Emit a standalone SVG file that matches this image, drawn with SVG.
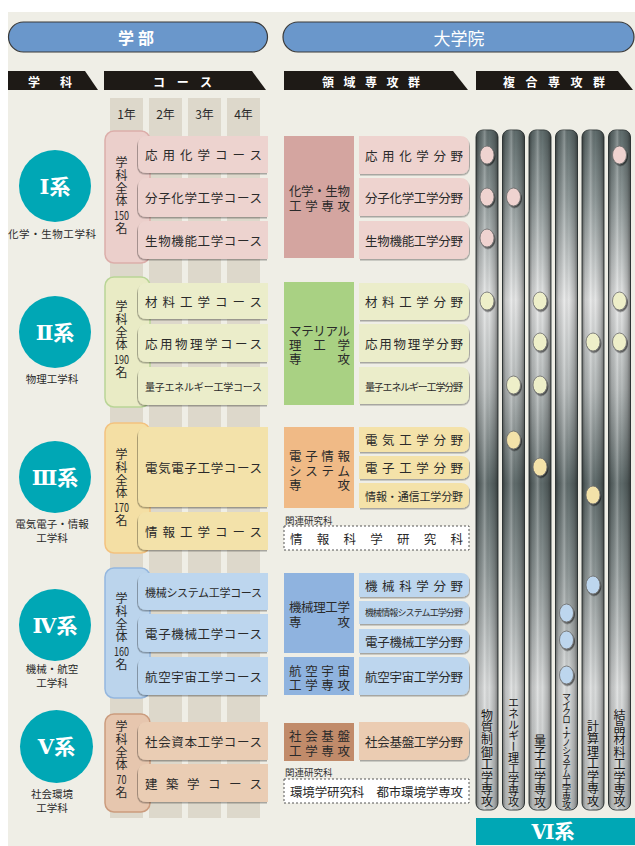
<svg xmlns="http://www.w3.org/2000/svg" width="635" height="846" viewBox="0 0 635 846">
<defs>
<linearGradient id="barV" gradientUnits="userSpaceOnUse" x1="0" y1="130" x2="0" y2="810">
<stop offset="0" stop-color="#5F6C6C"/>
<stop offset="0.1" stop-color="#8E9898"/>
<stop offset="0.25" stop-color="#E6E7E7"/>
<stop offset="0.38" stop-color="#B5BABA"/>
<stop offset="0.52" stop-color="#5E6A6A"/>
<stop offset="0.65" stop-color="#8D9696"/>
<stop offset="0.82" stop-color="#DADCDC"/>
<stop offset="1" stop-color="#C4C8C8"/>
</linearGradient>
<linearGradient id="barH" x1="0" y1="0" x2="1" y2="0">
<stop offset="0" stop-color="#000" stop-opacity="0.45"/>
<stop offset="0.15" stop-color="#000" stop-opacity="0.12"/>
<stop offset="0.4" stop-color="#fff" stop-opacity="0.25"/>
<stop offset="0.6" stop-color="#000" stop-opacity="0"/>
<stop offset="0.85" stop-color="#000" stop-opacity="0.2"/>
<stop offset="1" stop-color="#000" stop-opacity="0.45"/>
</linearGradient>
<filter id="shL" x="-10%" y="-20%" width="120%" height="150%"><feDropShadow dx="-1" dy="1.5" stdDeviation="0.6" flood-color="#000" flood-opacity="0.3"/></filter>
<filter id="shR" x="-10%" y="-20%" width="120%" height="150%"><feDropShadow dx="1" dy="1.5" stdDeviation="0.6" flood-color="#000" flood-opacity="0.3"/></filter>
<filter id="shD" x="-40%" y="-40%" width="180%" height="180%"><feDropShadow dx="1" dy="1.5" stdDeviation="0.5" flood-color="#000" flood-opacity="0.55"/></filter>
<style>
text{font-family:"Noto Sans CJK JP","Noto Sans CJK SC",sans-serif;fill:#2a2a2a;dominant-baseline:central}
.w{fill:#fff;font-weight:bold}
.hd{font-size:12px}
.yr{font-size:12px;text-anchor:middle}
.crs{font-size:12.5px}
.fld{font-size:12.5px}
.gr{font-size:12.5px}
.lbl{font-size:10.5px;text-anchor:middle}
.vt{font-size:12px;text-anchor:middle}
.vk{font-size:12px;writing-mode:vertical-rl;letter-spacing:0.7px}
.num{font-family:"DejaVu Serif","Noto Sans CJK JP",serif;font-size:21px;font-weight:bold;fill:#fff;text-anchor:middle}
.bar{fill:url(#barV);stroke:#3d4545;stroke-width:1}
.barov{fill:url(#barH)}
.dot{stroke:#6b6b6b;stroke-width:0.8;filter:url(#shD)}
.vbl{font-size:12px;writing-mode:vertical-rl;fill:#151515}
.teal{fill:#00A7B5}
.col{fill:#DDD8CB}
.crsbox{filter:url(#shL)}
.fldbox{filter:url(#shR)}
.dash{fill:#fff;stroke:#555;stroke-width:1;stroke-dasharray:2 2}
.rel{font-size:9.5px;fill:#333}
.s10{font-size:10px}
.s11{font-size:11px}
.s9{font-size:9px}
</style>
</defs>
<rect x="0" y="0" width="635" height="846" fill="#fff"/>
<rect x="8" y="12" width="627" height="834" fill="#EFEEE6"/>

<g id="header-gakubu">
<rect x="8.5" y="22" width="259" height="30" rx="15" fill="#6A97CB" stroke="#3A3A3A" stroke-width="1.2"/>
<text x="118" y="37" class="w" style="font-size:16px" textLength="36">学部</text>
</g>
<g id="header-daigakuin">
<rect x="283" y="22" width="351" height="30" rx="15" fill="#6A97CB" stroke="#3A3A3A" stroke-width="1.2"/>
<text x="459" y="37" class="w" style="font-size:17px;font-weight:normal" text-anchor="middle">大学院</text>
</g>

<g id="col-headers">
<path d="M8 71H85L98 90H8Z" fill="#1E1A16"/>
<text x="28" y="81" class="w hd" textLength="44">学科</text>
<path d="M104 71H252L266 90H104Z" fill="#1E1A16"/>
<text x="153" y="81" class="w hd" textLength="59">コース</text>
<path d="M284 71H453L468 90H284Z" fill="#1E1A16"/>
<text x="322" y="81" class="w hd" textLength="98">領域専攻群</text>
<path d="M476 71H618L633 90H476Z" fill="#1E1A16"/>
<text x="503" y="81" class="w hd" textLength="102">複合専攻群</text>
</g>

<g id="years">
<rect x="110" y="98" width="33" height="720" class="col"/>
<rect x="149" y="98" width="33" height="720" class="col"/>
<rect x="188" y="98" width="33" height="720" class="col"/>
<rect x="227" y="98" width="33" height="720" class="col"/>
<text x="126.5" y="113" class="yr">1年</text>
<text x="165.5" y="113" class="yr">2年</text>
<text x="204.5" y="113" class="yr">3年</text>
<text x="243.5" y="113" class="yr">4年</text>
</g>

<g id="bars">
<rect x="476" y="130" width="22" height="680" rx="7" class="bar"/>
<rect x="502.5" y="130" width="22" height="680" rx="7" class="bar"/>
<rect x="529" y="130" width="22" height="680" rx="7" class="bar"/>
<rect x="555.5" y="130" width="22" height="680" rx="7" class="bar"/>
<rect x="582" y="130" width="22" height="680" rx="7" class="bar"/>
<rect x="608.5" y="130" width="22" height="680" rx="7" class="bar"/>
<rect x="476" y="130" width="22" height="680" rx="7" class="barov"/>
<rect x="502.5" y="130" width="22" height="680" rx="7" class="barov"/>
<rect x="529" y="130" width="22" height="680" rx="7" class="barov"/>
<rect x="555.5" y="130" width="22" height="680" rx="7" class="barov"/>
<rect x="582" y="130" width="22" height="680" rx="7" class="barov"/>
<rect x="608.5" y="130" width="22" height="680" rx="7" class="barov"/>
<text x="487" y="709" class="vbl" letter-spacing="0.4">物質制御工学専攻</text>
<text x="513.5" y="697" class="vbl s11">エネルギー理工学専攻</text>
<text x="540" y="734" class="vbl" letter-spacing="0.4">量子工学専攻</text>
<text x="566.5" y="692" class="vbl s9" letter-spacing="-1.3">マイクロ・ナノシステム工学専攻</text>
<text x="593" y="720" class="vbl" letter-spacing="0.5">計算理工学専攻</text>
<text x="619.5" y="709" class="vbl" letter-spacing="0.4">結晶材料工学専攻</text>
</g>

<g id="kei6">
<rect x="476" y="818" width="159" height="27" class="teal"/>
<text x="553" y="832" class="num" style="font-size:20px">Ⅵ系</text>
</g>

<!-- Group I -->
<g id="kei1">
<circle cx="55" cy="186" r="36" class="teal"/>
<text x="55" y="186" class="num">Ⅰ系</text>
<text x="52" y="233" class="lbl" textLength="88">化学・生物工学科</text>
<rect x="105" y="131" width="45" height="132" rx="9" fill="#EBCFCB" stroke="#DCAEAA" stroke-width="1.5"/>
<text x="121.5" y="156.6" class="vk">学科全体</text>
<text class="vt"><tspan x="121.5" y="214" textLength="15" lengthAdjust="spacingAndGlyphs">150</tspan><tspan x="121.5" y="226.5">名</tspan></text>
</g>
<g id="kei1-courses" fill="#EDD3CF">
<path class="crsbox" d="M268 136H147Q138 136 138 145V164Q138 173 147 173H268Z"/>
<path class="crsbox" d="M268 178H147Q138 178 138 187V208Q138 217 147 217H268Z"/>
<path class="crsbox" d="M268 221H147Q138 221 138 230V250Q138 259 147 259H268Z"/>
<text x="145" y="154.5" class="crs" textLength="117">応用化学コース</text>
<text x="145" y="197.5" class="crs" textLength="117">分子化学工学コース</text>
<text x="145" y="240" class="crs" textLength="117">生物機能工学コース</text>
</g>
<g id="sensko1">
<rect x="284" y="136" width="70" height="122" fill="#D4A5A0"/>
<text x="289" y="190" class="gr" textLength="61">化学・生物</text>
<text x="289" y="205" class="gr" textLength="61">工学専攻</text>
</g>
<g id="bunya1" fill="#EED3CF">
<path class="fldbox" d="M359 136H460Q469 136 469 145V165Q469 174 460 174H359Z"/>
<path class="fldbox" d="M359 178H460Q469 178 469 187V207Q469 216 460 216H359Z"/>
<path class="fldbox" d="M359 221H460Q469 221 469 230V250Q469 259 460 259H359Z"/>
<text x="365" y="155" class="fld" textLength="98">応用化学分野</text>
<text x="365" y="197" class="fld" textLength="98">分子化学工学分野</text>
<text x="365" y="240" class="fld" textLength="98">生物機能工学分野</text>
</g>

<!-- Group II -->
<g id="kei2">
<circle cx="55" cy="332" r="36" class="teal"/>
<text x="55" y="332" class="num">Ⅱ系</text>
<text x="52" y="378" class="lbl">物理工学科</text>
<rect x="105" y="277" width="45" height="130" rx="9" fill="#E9EBC5" stroke="#B9D596" stroke-width="1.5"/>
<text x="121.5" y="300.6" class="vk">学科全体</text>
<text class="vt"><tspan x="121.5" y="358" textLength="15" lengthAdjust="spacingAndGlyphs">190</tspan><tspan x="121.5" y="370.5">名</tspan></text>
</g>
<g id="kei2-courses" fill="#EBEDCA">
<path class="crsbox" d="M268 283H147Q138 283 138 292V310Q138 319 147 319H268Z"/>
<path class="crsbox" d="M268 324H147Q138 324 138 333V353Q138 362 147 362H268Z"/>
<path class="crsbox" d="M268 367H147Q138 367 138 376V396Q138 405 147 405H268Z"/>
<text x="145" y="301" class="crs" textLength="117">材料工学コース</text>
<text x="145" y="343" class="crs" textLength="117">応用物理学コース</text>
<text x="145" y="386" class="crs s10" textLength="117">量子エネルギー工学コース</text>
</g>
<g id="sensko2">
<rect x="284" y="282" width="70" height="123" fill="#A9D183"/>
<text x="289" y="330" class="gr" textLength="61">マテリアル</text>
<text x="289" y="344" class="gr" textLength="61">理工学</text>
<text x="289" y="358" class="gr" textLength="61">専攻</text>
</g>
<g id="bunya2" fill="#EBEDCA">
<path class="fldbox" d="M359 283H460Q469 283 469 292V311Q469 320 460 320H359Z"/>
<path class="fldbox" d="M359 324H460Q469 324 469 333V353Q469 362 460 362H359Z"/>
<path class="fldbox" d="M359 367H460Q469 367 469 376V395Q469 404 460 404H359Z"/>
<text x="365" y="301" class="fld" textLength="98">材料工学分野</text>
<text x="365" y="343" class="fld" textLength="98">応用物理学分野</text>
<text x="365" y="386" class="fld s10" textLength="98">量子エネルギー工学分野</text>
</g>

<!-- Group III -->
<g id="kei3">
<circle cx="55" cy="477" r="36" class="teal"/>
<text x="55" y="477" class="num">Ⅲ系</text>
<text x="52" y="523" class="lbl">電気電子・情報</text>
<text x="52" y="537" class="lbl">工学科</text>
<rect x="105" y="423" width="45" height="130" rx="9" fill="#F4DFA4" stroke="#F3C27F" stroke-width="1.5"/>
<text x="121.5" y="448.6" class="vk">学科全体</text>
<text class="vt"><tspan x="121.5" y="506" textLength="15" lengthAdjust="spacingAndGlyphs">170</tspan><tspan x="121.5" y="518.5">名</tspan></text>
</g>
<g id="kei3-courses" fill="#F3E2AA">
<path class="crsbox" d="M268 427H147Q138 427 138 436V498Q138 507 147 507H268Z"/>
<path class="crsbox" d="M268 512H147Q138 512 138 521V541Q138 550 147 550H268Z"/>
<text x="145" y="467" class="crs" textLength="117">電気電子工学コース</text>
<text x="145" y="531" class="crs" textLength="117">情報工学コース</text>
</g>
<g id="sensko3">
<rect x="284" y="427" width="70" height="81" fill="#F0BA86"/>
<text x="289" y="455" class="gr" textLength="61">電子情報</text>
<text x="289" y="470" class="gr" textLength="61">システム</text>
<text x="289" y="484" class="gr" textLength="61">専攻</text>
</g>
<g id="bunya3" fill="#F4E2A9">
<path class="fldbox" d="M359 427H461Q469 427 469 435V444Q469 452 461 452H359Z"/>
<path class="fldbox" d="M359 456H461Q469 456 469 464V471Q469 479 461 479H359Z"/>
<path class="fldbox" d="M359 483H461Q469 483 469 491V500Q469 508 461 508H359Z"/>
<text x="365" y="439.5" class="fld" textLength="98">電気工学分野</text>
<text x="365" y="467.5" class="fld" textLength="98">電子工学分野</text>
<text x="365" y="495.5" class="fld s11" textLength="98">情報・通信工学分野</text>
</g>
<g id="kanren3">
<text x="285" y="520" class="rel">関連研究科</text>
<rect x="284" y="526" width="185" height="24" class="dash"/>
<text x="290" y="538" class="fld" textLength="173">情報科学研究科</text>
</g>

<!-- Group IV -->
<g id="kei4">
<circle cx="55" cy="625" r="36" class="teal"/>
<text x="55" y="625" class="num">Ⅳ系</text>
<text x="52" y="668" class="lbl">機械・航空</text>
<text x="52" y="682" class="lbl">工学科</text>
<rect x="105" y="568" width="45" height="130" rx="9" fill="#BBD4EC" stroke="#94B7DF" stroke-width="1.5"/>
<text x="121.5" y="592.6" class="vk">学科全体</text>
<text class="vt"><tspan x="121.5" y="650" textLength="15" lengthAdjust="spacingAndGlyphs">160</tspan><tspan x="121.5" y="662.5">名</tspan></text>
</g>
<g id="kei4-courses" fill="#BDD6EE">
<path class="crsbox" d="M268 573H147Q138 573 138 582V601Q138 610 147 610H268Z"/>
<path class="crsbox" d="M268 614H147Q138 614 138 623V643Q138 652 147 652H268Z"/>
<path class="crsbox" d="M268 657H147Q138 657 138 666V686Q138 695 147 695H268Z"/>
<text x="145" y="591.5" class="crs s11" textLength="117">機械システム工学コース</text>
<text x="145" y="633" class="crs" textLength="117">電子機械工学コース</text>
<text x="145" y="676" class="crs" textLength="117">航空宇宙工学コース</text>
</g>
<g id="sensko4a">
<rect x="284" y="573" width="70" height="80" fill="#8FB3DF"/>
<text x="289" y="606" class="gr" textLength="61">機械理工学</text>
<text x="289" y="621" class="gr" textLength="61">専攻</text>
</g>
<g id="sensko4b">
<rect x="284" y="657" width="70" height="38" fill="#8FB3DF"/>
<text x="289" y="670" class="gr" textLength="61">航空宇宙</text>
<text x="289" y="684" class="gr" textLength="61">工学専攻</text>
</g>
<g id="bunya4" fill="#BDD6EE">
<path class="fldbox" d="M359 573H461Q469 573 469 581V589Q469 597 461 597H359Z"/>
<path class="fldbox" d="M359 601H461Q469 601 469 609V616Q469 624 461 624H359Z"/>
<path class="fldbox" d="M359 629H461Q469 629 469 637V645Q469 653 461 653H359Z"/>
<path class="fldbox" d="M359 657H460Q469 657 469 666V686Q469 695 460 695H359Z"/>
<text x="365" y="585" class="fld" textLength="98">機械科学分野</text>
<text x="365" y="612.5" class="fld s9" textLength="98">機械情報システム工学分野</text>
<text x="365" y="641" class="fld" textLength="98">電子機械工学分野</text>
<text x="365" y="676" class="fld" textLength="98">航空宇宙工学分野</text>
</g>

<!-- Group V -->
<g id="kei5">
<circle cx="56.5" cy="746.5" r="36.5" class="teal"/>
<text x="56.5" y="746.5" class="num">Ⅴ系</text>
<text x="52" y="793" class="lbl">社会環境</text>
<text x="52" y="807" class="lbl">工学科</text>
<rect x="105" y="714" width="45" height="98" rx="9" fill="#E6C6AE" stroke="#CB9C7E" stroke-width="1.5"/>
<text x="121.5" y="720.6" class="vk">学科全体</text>
<text class="vt"><tspan x="121.5" y="778" textLength="10" lengthAdjust="spacingAndGlyphs">70</tspan><tspan x="121.5" y="790.5">名</tspan></text>
</g>
<g id="kei5-courses" fill="#EACDB4">
<path class="crsbox" d="M268 722H147Q138 722 138 731V751Q138 760 147 760H268Z"/>
<path class="crsbox" d="M268 764H147Q138 764 138 773V793Q138 802 147 802H268Z"/>
<text x="145" y="741" class="crs" textLength="117">社会資本工学コース</text>
<text x="145" y="783" class="crs" textLength="117">建築学コース</text>
</g>
<g id="sensko5">
<rect x="284" y="723" width="70" height="38" fill="#C18B6A"/>
<text x="289" y="735" class="gr" textLength="61">社会基盤</text>
<text x="289" y="750" class="gr" textLength="61">工学専攻</text>
</g>
<g id="bunya5" fill="#EBCCB2">
<path class="fldbox" d="M359 722H460Q469 722 469 731V751Q469 760 460 760H359Z"/>
<text x="365" y="741" class="fld" textLength="98">社会基盤工学分野</text>
</g>
<g id="kanren5">
<text x="285" y="772" class="rel">関連研究科</text>
<rect x="284" y="779" width="185" height="24" class="dash"/>
<text x="290" y="791" class="fld" textLength="173">環境学研究科　都市環境学専攻</text>
</g>

<g id="connectors">
<ellipse cx="487" cy="155" rx="7" ry="9" class="dot" fill="#EFD3D0"/>
<ellipse cx="487" cy="197" rx="7" ry="9" class="dot" fill="#EFD3D0"/>
<ellipse cx="487" cy="238" rx="7" ry="9" class="dot" fill="#EFD3D0"/>
<ellipse cx="513.5" cy="197" rx="7" ry="9" class="dot" fill="#EFD3D0"/>
<ellipse cx="619.5" cy="155" rx="7" ry="9" class="dot" fill="#EFD3D0"/>
<ellipse cx="487" cy="301" rx="7" ry="9" class="dot" fill="#EEEFC9"/>
<ellipse cx="540" cy="301" rx="7" ry="9" class="dot" fill="#EEEFC9"/>
<ellipse cx="619.5" cy="301" rx="7" ry="9" class="dot" fill="#EEEFC9"/>
<ellipse cx="540" cy="342" rx="7" ry="9" class="dot" fill="#EEEFC9"/>
<ellipse cx="593" cy="342" rx="7" ry="9" class="dot" fill="#EEEFC9"/>
<ellipse cx="619.5" cy="342" rx="7" ry="9" class="dot" fill="#EEEFC9"/>
<ellipse cx="513.5" cy="385" rx="7" ry="9" class="dot" fill="#EEEFC9"/>
<ellipse cx="540" cy="385" rx="7" ry="9" class="dot" fill="#EEEFC9"/>
<ellipse cx="513.5" cy="440" rx="7" ry="9" class="dot" fill="#F3E2A9"/>
<ellipse cx="540" cy="467" rx="7" ry="9" class="dot" fill="#F3E2A9"/>
<ellipse cx="593" cy="495" rx="7" ry="9" class="dot" fill="#F3E2A9"/>
<ellipse cx="593" cy="585" rx="7" ry="9" class="dot" fill="#BDD6EE"/>
<ellipse cx="566.5" cy="613" rx="7" ry="9" class="dot" fill="#BDD6EE"/>
<ellipse cx="566.5" cy="640" rx="7" ry="9" class="dot" fill="#BDD6EE"/>
<ellipse cx="566.5" cy="675" rx="7" ry="9" class="dot" fill="#BDD6EE"/>
</g>
</svg>
